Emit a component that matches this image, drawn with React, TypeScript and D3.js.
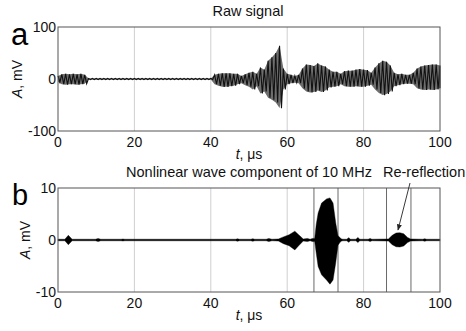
import React from "react";
import * as d3 from "d3";

// sampled once per microsecond (envelope of the raw trace, mV)
const rawTime = d3.range(0, 101);
const rawUpper = [
  6, 9, 10, 9, 10, 9, 10, 8,
  1, 1, 1, 1, 1, 1, 1, 1, 1, 1, 1, 1, 1, 1, 1, 1, 1, 1, 1, 1, 1, 1, 1, 1, 1, 1, 1, 1, 1, 1, 1, 1, 1,
  8, 10, 11, 11, 11, 10, 10, 6, 9, 12,
  14, 10, 22, 18, 35, 42, 50, 64, 20, 10,
  8, 6, 8, 20, 28, 27, 25, 30, 26, 24,
  18, 14, 14, 10, 15, 16, 16, 18, 19, 18,
  17, 12, 22, 30, 35, 33, 26, 12, 9, 10,
  8, 8, 12, 20, 24, 26, 27, 28, 28, 26,
];
const rawLower = [
  -6, -10, -11, -10, -10, -11, -10, -9,
  -1, -1, -1, -1, -1, -1, -1, -1, -1, -1, -1, -1, -1, -1, -1, -1, -1, -1, -1, -1, -1, -1, -1, -1, -1, -1, -1, -1, -1, -1, -1, -1, -1,
  -10, -13, -15, -15, -14, -13, -10, -8, -12, -15,
  -20, -14, -28, -24, -36, -40, -45, -56, -20, -10,
  -8, -7, -8, -18, -24, -26, -25, -22, -25, -22,
  -16, -15, -14, -10, -14, -15, -15, -14, -15, -15,
  -13, -11, -20, -27, -31, -29, -24, -14, -12, -10,
  -9, -9, -10, -18, -20, -21, -20, -21, -20, -18,
];

// envelope of the 10 MHz nonlinear component (mV)
const nlTime = [
  0, 1.8, 2.7, 3.7, 9.8, 10.5, 11.2, 16.5, 17, 17.5, 46.5, 47, 47.5, 50.5, 51, 51.5,
  54.5, 55.2, 56, 57.7, 59, 60.5, 62, 63, 64.2, 65.3, 66, 66.6, 67.2, 67.6, 68.1, 69,
  70.3, 71.2, 72, 72.7, 73.3, 73.8, 74.2, 74.6, 75.6, 76.1, 76.6, 78, 78.5, 79, 81.2,
  81.7, 82.2, 86.5, 87.5, 88.5, 89.5, 90.5, 91.5, 92.3, 95.5, 96, 96.5, 100,
];
const nlUpper = [
  0.15, 0.15, 0.9, 0.15, 0.15, 0.3, 0.15, 0.15, 0.2, 0.15, 0.15, 0.25, 0.15, 0.15, 0.25, 0.15,
  0.15, 0.3, 0.15, 0.2, 0.6, 1.0, 1.7, 1.0, 0.2, 0.3, 0.15, 0.3, 0.3, 3.0, 5.2, 7.1,
  7.9, 8.1, 7.1, 3.3, 0.8, 0.5, 0.2, 0.15, 0.15, 0.45, 0.15, 0.15, 0.5, 0.15, 0.15,
  0.3, 0.15, 0.2, 0.9, 1.35, 1.4, 1.2, 0.5, 0.2, 0.15, 0.25, 0.15, 0.15,
];
const nlLower = [
  -0.15, -0.15, -0.9, -0.15, -0.15, -0.3, -0.15, -0.15, -0.2, -0.15, -0.15, -0.25, -0.15, -0.15, -0.25, -0.15,
  -0.15, -0.3, -0.15, -0.2, -0.7, -1.1, -1.9, -1.1, -0.2, -0.3, -0.15, -0.3, -0.3, -2.5, -5.1, -6.7,
  -7.7, -8.5, -7.7, -4.4, -1.0, -0.5, -0.2, -0.15, -0.15, -0.45, -0.15, -0.15, -0.5, -0.15, -0.15,
  -0.3, -0.15, -0.2, -0.9, -1.3, -1.35, -1.15, -0.5, -0.2, -0.15, -0.25, -0.15, -0.15,
];

const xTicks = [0, 20, 40, 60, 80, 100];
const gridTicks = [20, 40, 60, 80];
const rawYTicks = [-100, 0, 100];
const nlYTicks = [-10, 0, 10];
const gateTimes = [67, 73.3, 86, 92.4];

const W = 466;
const H = 331;
const font = "'Liberation Sans', Arial, sans-serif";

const x = d3.scaleLinear().domain([0, 100]).range([58, 440]);
const yRaw = d3.scaleLinear().domain([-100, 100]).range([131, 27]);
const yNl = d3.scaleLinear().domain([-10, 10]).range([292, 188]);

const Frame = ({ y, yTicks, labelX }: { y: d3.ScaleLinear<number, number>; yTicks: number[]; labelX: number }) => {
  const [bottom, top] = y.range();
  return (
    <g fontFamily={font} fontSize={14} fill="#111">
      {gridTicks.map((t) => (
        <line key={t} x1={x(t)} x2={x(t)} y1={top} y2={bottom} stroke="#cfcfcf" strokeWidth={1} />
      ))}
      {yTicks.map((v) => (
        <text key={v} x={56} y={y(v)} textAnchor="end" dominantBaseline="central">
          {v}
        </text>
      ))}
      {xTicks.map((t) => (
        <text key={t} x={x(t)} y={bottom + 15.5} textAnchor="middle">
          {t}
        </text>
      ))}
      <text x={x(50)} y={bottom + 28} textAnchor="middle">
        <tspan fontStyle="italic">t</tspan>, μs
      </text>
      <text
        transform={`translate(${labelX},${y(0)}) rotate(-90)`}
        textAnchor="middle"
        dominantBaseline="central"
      >
        <tspan fontStyle="italic">A</tspan>, mV
      </text>
    </g>
  );
};

const Box = ({ y }: { y: d3.ScaleLinear<number, number> }) => {
  const [bottom, top] = y.range();
  return (
    <rect x={x(0)} y={top} width={x(100) - x(0)} height={bottom - top} fill="none" stroke="#555" strokeWidth={1} />
  );
};

export default function App() {
  const rawArea = d3
    .area<number>()
    .x((t) => x(t))
    .y0((_, i) => yRaw(rawLower[i]))
    .y1((_, i) => yRaw(rawUpper[i]));

  // each sample drawn as an up/down stroke to give the oscillation texture
  const rawPts: [number, number][] = rawTime.flatMap((t, i) => [
    [t, rawUpper[i]],
    [Math.min(t + 0.5, 100), rawLower[i]],
  ]);
  const rawLine = d3
    .line<[number, number]>()
    .x((d) => x(d[0]))
    .y((d) => yRaw(d[1]));

  const nlArea = d3
    .area<number>()
    .x((t) => x(t))
    .y0((_, i) => yNl(nlLower[i]))
    .y1((_, i) => yNl(nlUpper[i]));

  return (
    <svg width={W} height={H} style={{ position: "absolute", left: 0, top: 0, background: "#fff" }}>
      <defs>
        <marker id="arrow" viewBox="0 0 10 10" refX="9" refY="5" markerWidth="7" markerHeight="7" orient="auto">
          <path d="M0,1 L10,5 L0,9 Z" fill="#222" />
        </marker>
      </defs>
      <rect width={W} height={H} fill="#fff" />

      {/* panel a */}
      <Frame y={yRaw} yTicks={rawYTicks} labelX={17} />
      <path d={rawArea(rawTime) ?? ""} fill="#6e6e6e" />
      <path d={rawLine(rawPts) ?? ""} fill="none" stroke="#111" strokeWidth={1.1} />
      <Box y={yRaw} />
      <text x={248} y={16} textAnchor="middle" fontFamily={font} fontSize={14.5} fill="#111">
        Raw signal
      </text>
      <text x={11} y={45} fontFamily={font} fontSize={31} fill="#000">
        a
      </text>

      {/* panel b */}
      <Frame y={yNl} yTicks={nlYTicks} labelX={25} />
      {gateTimes.map((t) => (
        <line key={t} x1={x(t)} x2={x(t)} y1={188} y2={292} stroke="#6a6a6a" strokeWidth={1} />
      ))}
      <path d={nlArea(nlTime) ?? ""} fill="#000" stroke="#000" strokeWidth={0.4} />
      <Box y={yNl} />
      <text x={249} y={177} textAnchor="middle" fontFamily={font} fontSize={14.5} fill="#111">
        Nonlinear wave component of 10 MHz
      </text>
      <text x={383} y={177} fontFamily={font} fontSize={14.5} fill="#111">
        Re-reflection
      </text>
      <line x1={410} y1={183} x2={398} y2={230} stroke="#222" strokeWidth={0.9} markerEnd="url(#arrow)" />
      <text x={12} y={205} fontFamily={font} fontSize={29} fill="#000">
        b
      </text>
    </svg>
  );
}
